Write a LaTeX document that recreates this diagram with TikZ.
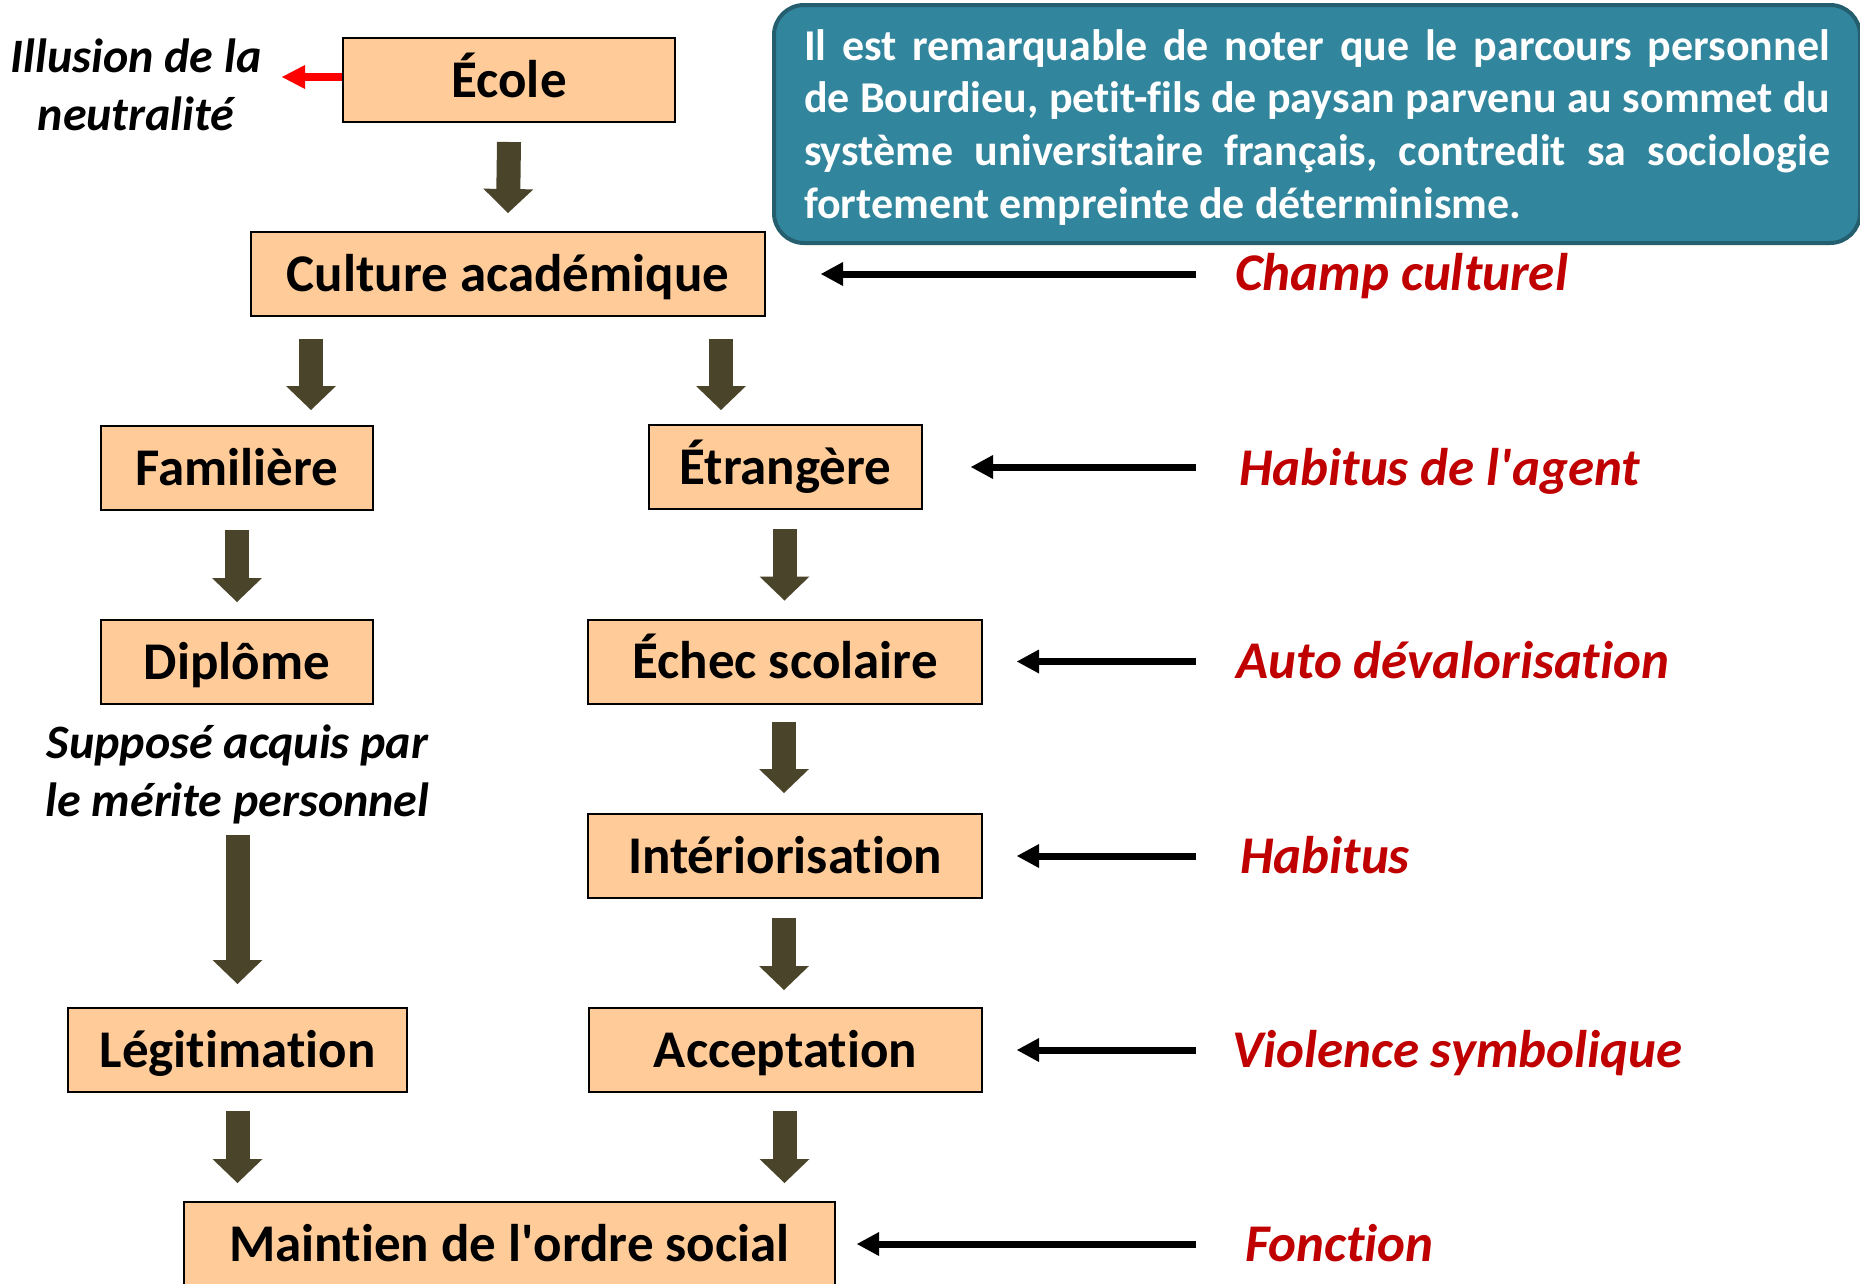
\documentclass[tikz,border=0pt]{standalone}
\usepackage{fontspec}
\setmainfont{Carlito}[Ligatures={TeX,NoCommon}]
\usetikzlibrary{arrows.meta,calc}
\definecolor{peach}{HTML}{FFCC99}
\definecolor{arrowolive}{HTML}{4A452A}
\definecolor{tealfill}{HTML}{31859C}
\definecolor{tealline}{HTML}{245E6F}
\definecolor{labelred}{HTML}{C00000}
\definecolor{pureRed}{HTML}{FF0000}
\begin{document}
\begin{tikzpicture}[x=1pt,y=-1pt,
  box/.style={draw=black,line width=2pt,fill=peach,minimum height=84pt,inner sep=0pt,
    text height=34pt,text depth=0pt,font=\fontsize{53}{64}\selectfont\bfseries},
  blockarrow/.style={draw=arrowolive,line width=24pt,
    -{Triangle[length=24pt,width=50pt,line width=0pt]}},
  sidearrow/.style={draw=black,line width=7pt,
    -{Triangle[length=22pt,width=24pt,line width=0pt]}},
  redarrow/.style={draw=pureRed,line width=8pt,
    -{Triangle[length=23pt,width=24pt,line width=0pt]}},
  redlabel/.style={anchor=base west,inner sep=0pt,text=labelred,
    font=\fontsize{53}{64}\selectfont\bfseries\itshape},
  blacklabel/.style={inner sep=0pt,align=center,
    font=\fontsize{48}{58}\selectfont\bfseries\itshape},
  notebox/.style={draw=tealline,line width=4pt,fill=tealfill,rounded corners=30pt,
    minimum width=1086pt,minimum height=238pt,inner sep=0pt},
  notetext/.style={text=white,text width=1026pt,align=justify,inner sep=0pt,
    font=\fontsize{44}{52.6}\selectfont\bfseries}]
\useasboundingbox (0,0) rectangle (1860,1283);
\fill[white] (0,0) rectangle (1860,1283);

% note box
\node[notebox] (note) at (1317,124) {};
\node[notetext] (notetxt) at ($(note.center)+(0,3.3)$) {\frenchspacing\hyphenpenalty=10000\exhyphenpenalty=10000
Il est remarquable de noter que le parcours personnel\linebreak
de Bourdieu, petit-fils de paysan parvenu au sommet du\linebreak
système universitaire français, contredit sa sociologie\linebreak
fortement empreinte de déterminisme.};

% boxes
\node[box,minimum width=332pt] (ecole) at (509,80) {École};
\node[box,minimum width=514pt] (cult) at (508,274) {Culture académique};
\node[box,minimum width=272pt] (fam) at (237,468) {Familière};
\node[box,minimum width=273pt] (etr) at (785.5,467) {Étrangère};
\node[box,minimum width=272pt] (dip) at (237,662) {Diplôme};
\node[box,minimum width=394pt] (echec) at (785,661.5) {Échec scolaire};
\node[box,minimum width=394pt] (inter) at (785,856) {Intériorisation};
\node[box,minimum width=393pt] (accept) at (785.5,1050) {Acceptation};
\node[box,minimum width=339pt] (legit) at (237.5,1050) {Légitimation};
\node[box,minimum width=651pt] (maint) at (509.5,1244) {Maintien de l\textquotesingle ordre social};

% black italic labels
\node[blacklabel] (illu) at (136,84.5) {Illusion de la\\neutralité};
\node[blacklabel] (sup) at (237.5,774) {Supposé acquis par\\le mérite personnel};

% red labels
\node[redlabel] (champ) at (1235,290) {Champ culturel};
\node[redlabel] (hagent) at (1239,485) {Habitus de l\textquotesingle agent};
\node[redlabel] (auto) at (1236,678) {Auto dévalorisation};
\node[redlabel] (habitus) at (1240,873) {Habitus};
\node[redlabel] (violence) at (1232,1067) {Violence symbolique};
\node[redlabel] (fonction) at (1245,1261) {Fonction};

% block arrows
\draw[blockarrow] ($(ecole.south)+(0,19)$) -- ($(cult.north)+(0,-18)$);
\draw[blockarrow] ($(cult.south west)+(61,22)$) -- ($(cult.south west |- fam.north)+(61,-15)$);
\draw[blockarrow] ($(cult.south east)+(-45,22)$) -- ($(cult.south east |- etr.north)+(-45,-14)$);
\draw[blockarrow] ($(fam.south)+(0,19)$) -- ($(dip.north)+(0,-17)$);
\draw[blockarrow] ($(etr.south)+(-1,19)$) -- ($(etr.south |- echec.north)+(-1,-18)$);
\draw[blockarrow] ($(sup.south)+(0,11)$) -- ($(legit.north)+(0,-23)$);
\draw[blockarrow] ($(echec.south)+(-1,17)$) -- ($(inter.north)+(-1,-20)$);
\draw[blockarrow] ($(inter.south)+(-1,19)$) -- ($(inter.south |- accept.north)+(-1,-17)$);
\draw[blockarrow] ($(legit.south)+(0,18)$) -- ($(legit.south |- maint.north)+(0,-18)$);
\draw[blockarrow] ($(accept.south)+(-1,18)$) -- ($(accept.south |- maint.north)+(-1,-18)$);

% side arrows
\draw[sidearrow] ($(cult.east -| champ.west)+(-39,0)$) -- ($(cult.east)+(55,0)$);
\draw[sidearrow] ($(etr.east -| hagent.west)+(-43,0)$) -- ($(etr.east)+(48,0)$);
\draw[sidearrow] ($(echec.east -| auto.west)+(-40,0)$) -- ($(echec.east)+(34,0)$);
\draw[sidearrow] ($(inter.east -| habitus.west)+(-44,0)$) -- ($(inter.east)+(34,0)$);
\draw[sidearrow] ($(accept.east -| violence.west)+(-36,0)$) -- ($(accept.east)+(34,0)$);
\draw[sidearrow] ($(maint.east -| fonction.west)+(-49,0)$) -- ($(maint.east)+(21,0)$);

% red arrow
\draw[redarrow] ($(ecole.west)+(0,-3)$) -- ($(ecole.west)+(-60,-3)$);
\end{tikzpicture}
\end{document}
